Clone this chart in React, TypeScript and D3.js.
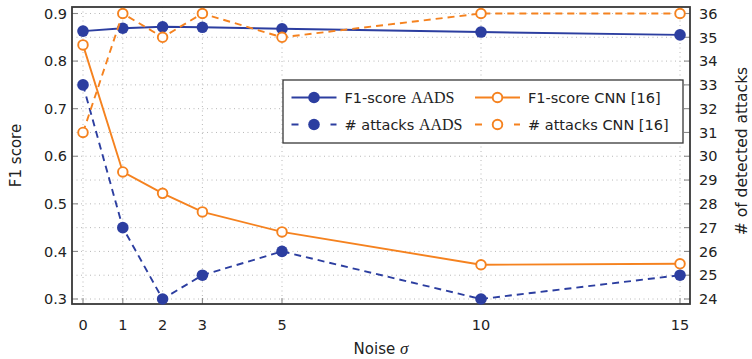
import React, { useRef, useEffect } from 'react'
import * as d3 from 'd3'

// noise levels (x axis)
const noise = [0, 1, 2, 3, 5, 10, 15]
// F1 score, left axis
const f1Aads = [0.863, 0.869, 0.872, 0.871, 0.868, 0.861, 0.855]
const f1Cnn = [0.834, 0.567, 0.522, 0.483, 0.441, 0.372, 0.374]
// number of detected attacks, right axis
const attacksAads = [33, 27, 24, 25, 26, 24, 25]
const attacksCnn = [31, 36, 35, 36, 35, 36, 36]

const leftTicks = [0.3, 0.4, 0.5, 0.6, 0.7, 0.8, 0.9]
const rightTicks = [24, 25, 26, 27, 28, 29, 30, 31, 32, 33, 34, 35, 36]

const BLUE = '#2c3ea0'
const ORANGE = '#f5821f'
const SANS = '"DejaVu Sans", sans-serif'
const SERIF = '"Liberation Serif", "DejaVu Serif", serif'
const FS = 14.5

const Chart = () => {
  const ref = useRef<SVGSVGElement | null>(null)

  useEffect(() => {
    const left = 72, right = 690, top = 7, bottom = 304

    const svg = d3.select(ref.current)
    svg.selectAll('*').remove()

    const x = d3.scaleLinear([0, 15], [83, 680])
    const yL = d3.scaleLinear([0.3, 0.9], [299, 13.5])
    const yR = d3.scaleLinear([24, 36], [299, 13.5])

    // grid
    const grid = svg.append('g')
      .attr('stroke', '#b0b0b0')
      .attr('stroke-width', 0.9)
      .attr('stroke-dasharray', '1,3.5')
    grid.selectAll('line.v').data(noise).join('line')
      .attr('x1', d => x(d)).attr('x2', d => x(d))
      .attr('y1', top).attr('y2', bottom)
    grid.selectAll('line.h').data(rightTicks).join('line')
      .attr('x1', left).attr('x2', right)
      .attr('y1', d => yR(d)).attr('y2', d => yR(d))

    // tick marks (inside)
    const ticks = svg.append('g').attr('stroke', '#8a8a8a').attr('stroke-width', 1.1)
    ticks.selectAll('line.l').data(leftTicks).join('line')
      .attr('x1', left).attr('x2', left + 6)
      .attr('y1', d => yL(d)).attr('y2', d => yL(d))
    ticks.selectAll('line.r').data(rightTicks).join('line')
      .attr('x1', right - 6).attr('x2', right)
      .attr('y1', d => yR(d)).attr('y2', d => yR(d))
    ticks.selectAll('line.b').data(noise).join('line')
      .attr('x1', d => x(d)).attr('x2', d => x(d))
      .attr('y1', bottom).attr('y2', bottom - 6)

    // frame
    svg.append('rect')
      .attr('x', left).attr('y', top)
      .attr('width', right - left).attr('height', bottom - top)
      .attr('fill', 'none').attr('stroke', '#383838').attr('stroke-width', 1.8)

    // tick labels
    svg.append('g').selectAll('text').data(leftTicks).join('text')
      .attr('x', left - 5).attr('y', d => yL(d))
      .attr('dy', '0.36em').attr('text-anchor', 'end')
      .attr('font-family', SANS).attr('font-size', FS).attr('fill', '#222')
      .text(d => d3.format('.1f')(d))
    svg.append('g').selectAll('text').data(rightTicks).join('text')
      .attr('x', right + 9).attr('y', d => yR(d))
      .attr('dy', '0.36em').attr('text-anchor', 'start')
      .attr('font-family', SANS).attr('font-size', FS).attr('fill', '#222')
      .text(d => d)
    svg.append('g').selectAll('text').data(noise).join('text')
      .attr('x', d => x(d)).attr('y', 325)
      .attr('dy', '0.36em').attr('text-anchor', 'middle')
      .attr('font-family', SANS).attr('font-size', FS).attr('fill', '#222')
      .text(d => d)

    // axis titles
    svg.append('text')
      .attr('transform', `translate(16,${(top + bottom) / 2}) rotate(-90)`)
      .attr('text-anchor', 'middle').attr('dy', '0.36em')
      .attr('font-family', SANS).attr('font-size', 15).attr('fill', '#222')
      .text('F1 score')
    svg.append('text')
      .attr('transform', `translate(741,151) rotate(-90)`)
      .attr('text-anchor', 'middle').attr('dy', '0.36em')
      .attr('font-family', SANS).attr('font-size', 15.5).attr('fill', '#222')
      .text('# of detected attacks')
    const xl = svg.append('text')
      .attr('x', 381).attr('y', 349).attr('dy', '0.36em')
      .attr('text-anchor', 'middle')
      .attr('font-family', SANS).attr('font-size', 15).attr('fill', '#222')
    xl.append('tspan').text('Noise ')
    xl.append('tspan').attr('font-family', SERIF).attr('font-style', 'italic').attr('font-size', 17).text('σ')

    // series
    const series = [
      { vals: f1Aads, y: yL, color: BLUE, dash: null, filled: true },
      { vals: f1Cnn, y: yL, color: ORANGE, dash: null, filled: false },
      { vals: attacksAads, y: yR, color: BLUE, dash: '7,5', filled: true },
      { vals: attacksCnn, y: yR, color: ORANGE, dash: '7,5', filled: false },
    ]
    series.forEach(s => {
      const pts = noise.map((n, i) => [n, s.vals[i]] as [number, number])
      const line = d3.line<[number, number]>().x(d => x(d[0])).y(d => s.y(d[1]))
      svg.append('path')
        .attr('d', line(pts))
        .attr('fill', 'none').attr('stroke', s.color).attr('stroke-width', 1.9)
        .attr('stroke-dasharray', s.dash)
      svg.append('g').selectAll('circle').data(pts).join('circle')
        .attr('cx', d => x(d[0])).attr('cy', d => s.y(d[1]))
        .attr('r', s.filled ? 5.8 : 4.8)
        .attr('fill', s.filled ? s.color : 'white')
        .attr('stroke', s.color).attr('stroke-width', s.filled ? 0 : 1.9)
    })

    // legend
    const lg = svg.append('g')
    lg.append('rect')
      .attr('x', 283).attr('y', 80).attr('width', 400).attr('height', 63)
      .attr('fill', 'white').attr('stroke', '#383838').attr('stroke-width', 1.3)
    const entries = [
      { cx: 291.5, ty: 97.5, color: BLUE, dash: null, filled: true, pre: 'F1-score ', post: 'AADS' },
      { cx: 475, ty: 97.5, color: ORANGE, dash: null, filled: false, pre: 'F1-score CNN [16]', post: '' },
      { cx: 291.5, ty: 124.5, color: BLUE, dash: '7,12.5', filled: true, pre: '# attacks ', post: 'AADS' },
      { cx: 475, ty: 124.5, color: ORANGE, dash: '7,12.5', filled: false, pre: '# attacks CNN [16]', post: '' },
    ]
    entries.forEach(e => {
      lg.append('line')
        .attr('x1', e.cx).attr('x2', e.cx + 45)
        .attr('y1', e.ty).attr('y2', e.ty)
        .attr('stroke', e.color).attr('stroke-width', 1.9)
        .attr('stroke-dasharray', e.dash)
      lg.append('circle')
        .attr('cx', e.cx + 22.5).attr('cy', e.ty)
        .attr('r', e.filled ? 5.8 : 4.8)
        .attr('fill', e.filled ? e.color : 'white')
        .attr('stroke', e.color).attr('stroke-width', e.filled ? 0 : 1.9)
      const t = lg.append('text')
        .attr('x', e.cx + 53).attr('y', e.ty).attr('dy', '0.36em')
        .attr('font-family', SANS).attr('font-size', FS).attr('fill', '#222')
      t.append('tspan').text(e.pre)
      if (e.post) t.append('tspan').attr('font-family', SERIF).attr('font-size', 16).text(e.post)
    })
  }, [])

  return (
    <svg ref={ref} width={752} height={359}
      style={{ position: 'absolute', left: 0, top: 0, background: 'white' }} />
  )
}

export default function App() {
  return <Chart />
}
